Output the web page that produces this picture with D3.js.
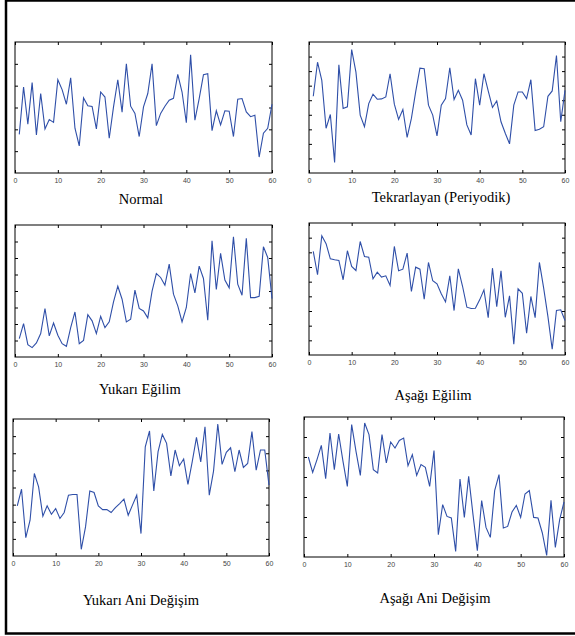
<!DOCTYPE html>
<html>
<head>
<meta charset="utf-8">
<script src="https://cdn.jsdelivr.net/npm/d3@7"></script>
<style>
  body { margin: 0; background: #fff; }
  svg { display: block; }
</style>
</head>
<body>
<div id="chart"></div>
<script>
// 공정 관리도 패턴 (x: 1..60)
const xTicks = [0, 10, 20, 30, 40, 50, 60];

const normal = [-1.23, 0.94, -0.76, 1.14, -1.26, 0.64, -0.98, -0.55, -0.68, 1.27,
	0.82, 0.15, 1.36, -0.95, -1.76, 0.44, 0.08, 0.05, -0.98, 0.71,
	0.48, -1.41, 0.03, 1.27, -0.21, 2.0, 0.06, -0.27, -1.33, 0.03,
	0.64, 2.0, -0.83, -0.27, 0.06, 0.33, 0.42, 1.52, 0.71, -0.70,
	2.41, -0.58, 0.41, 1.5, 1.55, -1.06, -0.15, -0.80, -0.15, -0.17,
	-1.33, 0.38, 0.41, -0.2, -0.42, -0.35, -2.27, -1.18, -0.95, 0.15];

const periodic = [5.27, 7.61, 6.36, 3.07, 4.02, 0.73, 7.43, 4.43, 4.55, 8.48,
	6.93, 3.98, 3.18, 4.77, 5.41, 5.07, 5.09, 5.23, 6.82, 4.73,
	3.68, 4.36, 2.45, 3.75, 5.57, 7.2, 7.16, 4.66, 3.98, 2.55,
	4.66, 5.11, 7.23, 5.05, 5.68, 5.0, 3.3, 2.61, 6.48, 4.66,
	6.82, 5.64, 4.5, 4.95, 3.52, 2.73, 2.0, 4.66, 5.57, 5.57,
	5.11, 6.41, 2.91, 3.0, 3.18, 5.27, 5.64, 8.07, 3.52, 5.68];

const upTrend = [1.11, 2.02, 0.75, 0.57, 0.85, 1.42, 2.94, 1.28, 2.06, 1.32,
	0.81, 0.65, 1.78, 2.73, 0.81, 1.01, 2.57, 2.19, 1.42, 2.47,
	1.78, 2.13, 3.34, 4.29, 3.5, 2.13, 2.29, 4.05, 2.94, 2.79,
	2.37, 3.99, 5.06, 4.82, 4.35, 5.63, 3.81, 3.1, 2.13, 3.0,
	5.06, 3.89, 5.51, 4.76, 2.23, 7.04, 4.09, 6.28, 4.66, 4.19,
	7.29, 4.41, 3.74, 7.19, 3.6, 3.6, 3.68, 6.68, 6.03, 3.54];

const downTrend = [7.06, 5.47, 8.13, 7.59, 6.56, 6.49, 6.45, 5.13, 7.11, 6.04,
	5.76, 7.74, 6.72, 6.67, 5.19, 5.65, 5.31, 5.4, 4.74, 7.4,
	5.74, 5.85, 6.95, 4.33, 5.99, 5.85, 3.8, 6.31, 5.06, 4.85,
	4.17, 3.62, 5.4, 3.03, 5.88, 4.67, 3.26, 3.17, 3.19, 3.76,
	4.44, 2.55, 5.92, 3.3, 5.74, 2.57, 4.03, 0.73, 4.51, 4.21,
	1.48, 3.99, 2.55, 6.31, 4.56, 2.62, 0.39, 3.03, 3.08, 2.35];

const upShift = [2.93, 3.9, 1.07, 2.09, 4.82, 4.04, 2.32, 2.93, 2.44, 2.77,
	2.19, 2.54, 3.55, 3.59, 3.59, 0.39, 1.7, 3.79, 3.71, 2.93,
	2.71, 2.71, 2.54, 2.83, 3.06, 3.32, 2.38, 2.97, 3.55, 1.31,
	6.38, 7.3, 3.8, 6.09, 7.1, 6.58, 4.68, 6.19, 5.27, 5.66,
	4.18, 5.5, 6.93, 5.5, 7.55, 3.55, 4.96, 7.71, 5.35, 6.05,
	6.32, 4.92, 6.19, 5.17, 5.4, 7.26, 5.01, 6.19, 6.19, 4.14];

const downShift = [5.0, 4.23, 4.87, 5.58, 3.92, 6.2, 4.37, 6.15, 4.78, 3.53,
	6.62, 5.28, 4.08, 6.7, 6.12, 4.37, 4.2, 6.12, 4.7, 5.75,
	5.45, 5.83, 5.95, 4.57, 5.12, 4.08, 4.62, 4.48, 3.53, 5.32,
	1.12, 2.62, 2.03, 1.95, 0.28, 3.9, 1.98, 4.03, 2.12, 0.32,
	2.82, 1.48, 0.98, 3.32, 4.12, 1.45, 1.53, 2.25, 2.58, 1.98,
	3.15, 3.32, 1.98, 1.95, 1.2, 0.08, 2.83, 0.48, 1.87, 2.75];

const titles = ["Normal", "Tekrarlayan (Periyodik)", "Yukarı Eğilim",
	"Aşağı Eğilim", "Yukarı Ani Değişim", "Aşağı Ani Değişim"];

// 패널 배치 (px)
const panels = [
	{ values: normal,    yDomain: [-3, 3], yTicks: [-2, -1, 0, 1, 2],         box: [15, 42, 272, 173],  title: [141, 204] },
	{ values: periodic,  yDomain: [0, 9],  yTicks: [1, 2, 3, 4, 5, 6, 7, 8],  box: [309, 42, 565, 173], title: [441, 202] },
	{ values: upTrend,   yDomain: [0, 8],  yTicks: [1, 2, 3, 4, 5, 6, 7],     box: [15, 225, 272, 357], title: [140, 394] },
	{ values: downTrend, yDomain: [0, 9],  yTicks: [1, 2, 3, 4, 5, 6, 7, 8],  box: [309, 223, 565, 355], title: [433, 400] },
	{ values: upShift,   yDomain: [0, 8],  yTicks: [1, 2, 3, 4, 5, 6, 7],     box: [13, 419, 269, 556], title: [141, 605] },
	{ values: downShift, yDomain: [0, 7],  yTicks: [1, 2, 3, 4, 5, 6],        box: [304, 417, 564, 557], title: [435, 603] }
];

const W = 575, H = 636;
const svg = d3.select("#chart").append("svg")
	.attr("width", W)
	.attr("height", H);

// 바깥 테두리 (오른쪽은 화면 밖)
svg.append("rect")
	.attr("x", 6).attr("y", 0.5)
	.attr("width", 600).attr("height", 633)
	.attr("fill", "none")
	.attr("stroke", "#000")
	.attr("stroke-width", 2.5);

const tickLen = 3;

panels.forEach((p, k) => {
	const [x0, y0, x1, y1] = p.box;
	const x = d3.scaleLinear().domain([0, 60]).range([x0, x1]);
	const y = d3.scaleLinear().domain(p.yDomain).range([y1, y0]);
	const g = svg.append("g");

	// 아래 축 (라벨 포함)
	g.append("g")
		.attr("transform", `translate(0,${y1})`)
		.call(d3.axisBottom(x).tickValues(xTicks).tickSizeInner(-tickLen).tickSizeOuter(0).tickPadding(5))
		.call(a => a.select(".domain").remove())
		.call(a => a.selectAll("text")
			.attr("font-family", "'Liberation Sans', Arial, sans-serif")
			.attr("font-size", "7px")
			.attr("fill", "#444"));

	// 위 축
	g.append("g")
		.attr("transform", `translate(0,${y0})`)
		.call(d3.axisTop(x).tickValues(xTicks).tickSizeInner(-tickLen).tickSizeOuter(0).tickFormat(""))
		.call(a => a.select(".domain").remove());

	// 좌우 축 (라벨 없음)
	g.append("g")
		.attr("transform", `translate(${x0},0)`)
		.call(d3.axisLeft(y).tickValues(p.yTicks).tickSizeInner(-tickLen).tickSizeOuter(0).tickFormat(""))
		.call(a => a.select(".domain").remove());
	g.append("g")
		.attr("transform", `translate(${x1},0)`)
		.call(d3.axisRight(y).tickValues(p.yTicks).tickSizeInner(-tickLen).tickSizeOuter(0).tickFormat(""))
		.call(a => a.select(".domain").remove());

	g.selectAll(".tick line").attr("stroke", "#000").attr("stroke-width", 1);

	// 테두리
	g.append("rect")
		.attr("x", x0).attr("y", y0)
		.attr("width", x1 - x0).attr("height", y1 - y0)
		.attr("fill", "none")
		.attr("stroke", "#000")
		.attr("stroke-width", 1);

	// 데이터 선
	const line = d3.line()
		.x((d, i) => x(i + 1))
		.y(d => y(d));

	g.append("path")
		.datum(p.values)
		.attr("fill", "none")
		.attr("stroke", "#2f4fa8")
		.attr("stroke-width", 1.1)
		.attr("d", line);

	g.append("text")
		.attr("x", p.title[0])
		.attr("y", p.title[1])
		.attr("text-anchor", "middle")
		.attr("font-family", "'Liberation Serif', 'Times New Roman', serif")
		.attr("font-size", "14.5px")
		.attr("fill", "#000")
		.text(titles[k]);
});
</script>
</body>
</html>
